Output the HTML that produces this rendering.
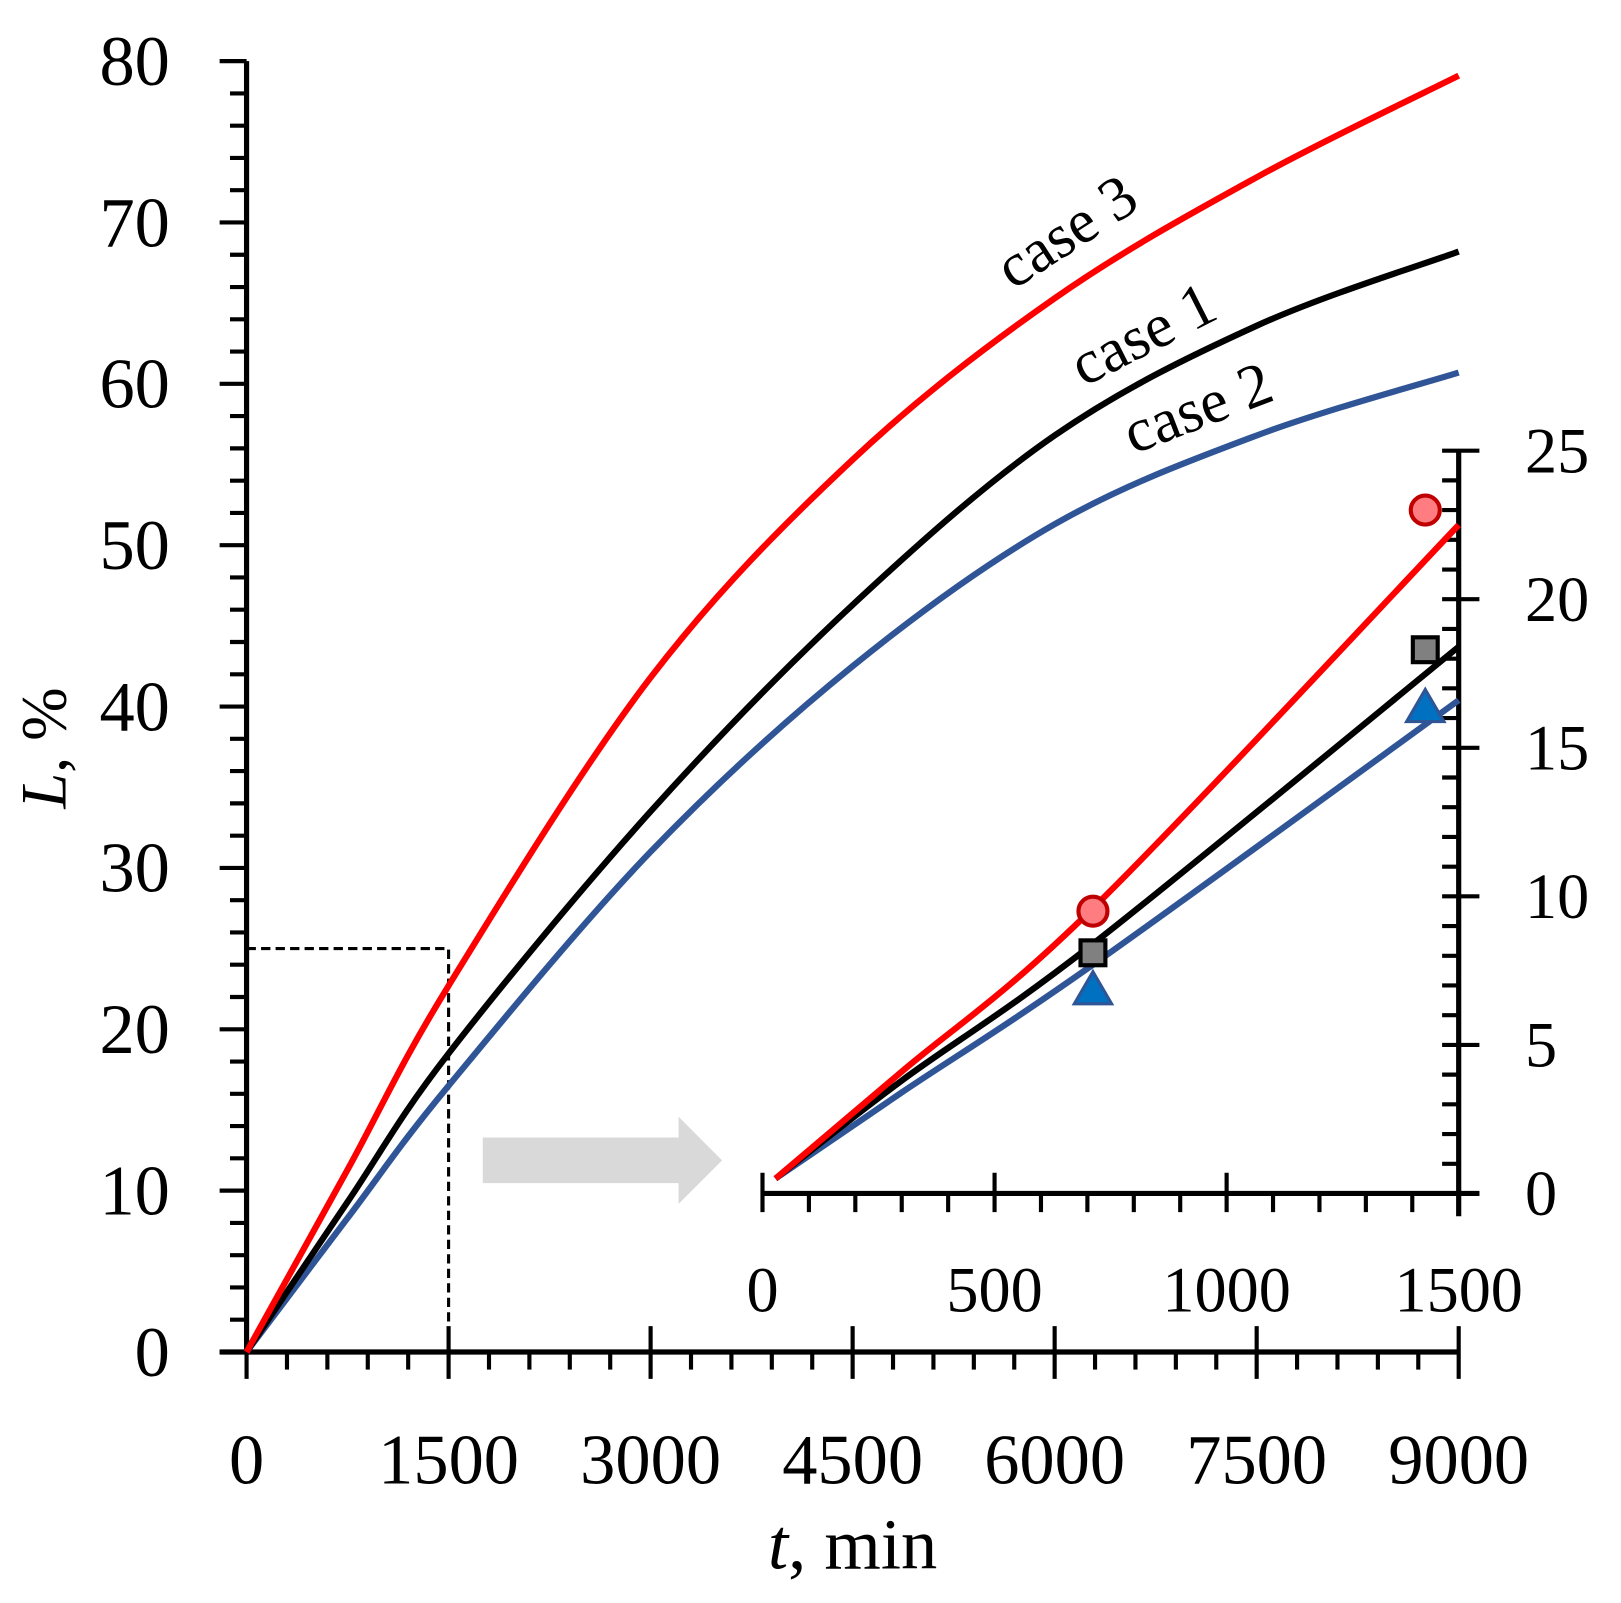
<!DOCTYPE html>
<html><head><meta charset="utf-8"><style>
html,body{margin:0;padding:0;background:#fff;}
svg{display:block;}
text{font-family:"Liberation Serif",serif;fill:#000;}
</style></head><body>
<svg id="chart" width="1621" height="1603" viewBox="0 0 1621 1603" xmlns="http://www.w3.org/2000/svg">
<g id="g" transform="scale(1.036)"></g>
</svg>
<script>
// main chart data
const mainT = [0, 750, 1500, 3000, 4500, 6000, 7500, 9000];
const case1 = [0, 9.3, 18.5, 33.5, 46.3, 56.8, 63.6, 68.2];
const case2 = [0, 8.3, 16.5, 31.0, 42.5, 51.3, 56.8, 60.7];
const case3 = [0, 11.3, 22.7, 41.8, 55.3, 65.3, 72.8, 79.1];
const mainXTicks = [0, 1500, 3000, 4500, 6000, 7500, 9000];
const mainYTicks = [0, 10, 20, 30, 40, 50, 60, 70, 80];
// inset data
const insetT = [28, 300, 712, 1500];
const inset1 = [0.5, 3.8, 8.4, 18.4];
const inset2 = [0.5, 3.4, 7.7, 16.6];
const inset3 = [0.5, 4.1, 9.6, 22.5];
const expT = [712, 1428];
const exp1 = [8.1, 18.3];
const exp2 = [6.8, 16.3];
const exp3 = [9.5, 23.0];
const insetXTicks = [0, 500, 1000, 1500];
const insetYTicks = [0, 5, 10, 15, 20, 25];

const NS = "http://www.w3.org/2000/svg";
const g = document.getElementById('g');
function el(tag, attrs, parent){const e=document.createElementNS(NS,tag);for(const k in attrs)e.setAttribute(k,attrs[k]);(parent||g).appendChild(e);return e;}

const X = t => 238 + t/9000*1170;
const Y = v => 1305 - v/80*1246;
const IX = t => 736 + t/1500*672;
const IY = v => 1152 - v/25*717;

function spline(xs, ys){
  const p = xs.map((x,i)=>[x,ys[i]]);
  let d = `M${p[0][0]},${p[0][1]}`;
  for(let i=0;i<p.length-1;i++){
    const p0=p[Math.max(0,i-1)],p1=p[i],p2=p[i+1],p3=p[Math.min(p.length-1,i+2)];
    const c1=[p1[0]+(p2[0]-p0[0])/6,p1[1]+(p2[1]-p0[1])/6];
    const c2=[p2[0]-(p3[0]-p1[0])/6,p2[1]-(p3[1]-p1[1])/6];
    d+=` C${c1[0]},${c1[1]} ${c2[0]},${c2[1]} ${p2[0]},${p2[1]}`;
  }
  return d;
}

// dashed zoom box
let e = el('path',{d:`M238,${Y(25)} H${X(1500)} V1305`,fill:'none',stroke:'#000','stroke-width':3,'stroke-dasharray':'9,5'});



// main axes
e = el('line',{x1:238,y1:Y(80),x2:238,y2:1305,stroke:'#000','stroke-width':5});


e = el('line',{x1:212,y1:1305,x2:1408,y2:1305,stroke:'#000','stroke-width':5});


for(let v=0; v<=80; v+=2){
  const major = v%10===0;
  el('line',{x1:major?212:222,y1:Y(v),x2:238,y2:Y(v),stroke:'#000','stroke-width':4});
}
mainYTicks.forEach(v=>{
  const t = el('text',{x:164,y:Y(v)+23,'font-size':68,'text-anchor':'end'});
  t.textContent = v;
  
  
});
for(let t=0; t<=9000; t+=300){
  const major = t%1500===0;
  el('line',{x1:X(t),y1:major?1280:1305,x2:X(t),y2:major?1331:1322,stroke:'#000','stroke-width':4});
}
mainXTicks.forEach(v=>{
  const t = el('text',{x:X(v),y:1432,'font-size':68,'text-anchor':'middle'});
  t.textContent = v;
  
  
});
let tt = el('text',{x:823,y:1514,'font-size':70,'text-anchor':'middle'});
tt.innerHTML = '<tspan font-style="italic">t</tspan>, min';


tt = el('text',{x:0,y:0,'font-size':62,'text-anchor':'middle',transform:'translate(63,722) rotate(-90)'});
tt.innerHTML = '<tspan font-style="italic">L</tspan>, %';



// main curves
[[case2,'#2f5597','case-2-line'],[case1,'#000','case-1-line'],[case3,'#ff0000','case-3-line']].forEach(([s,c,n])=>{
  const p = el('path',{d:spline(mainT.map(X), s.map(Y)),fill:'none',stroke:c,'stroke-width':6});
  
  
});

// curve labels
[['case 3',1040,240,-33,'case-3-label'],['case 1',1112,340,-27,'case-1-label'],['case 2',1163,412,-21,'case-2-label']].forEach(([s,x,y,r,n])=>{
  const t = el('text',{x:0,y:0,'font-size':60,'text-anchor':'middle',transform:`translate(${x},${y}) rotate(${r})`});
  t.textContent = s;
  
  
});

// arrow
e = el('path',{d:'M466,1098 H655 V1078 L697,1120 L655,1162 V1142 H466 Z',fill:'#d9d9d9'});



// inset axes
e = el('line',{x1:1408,y1:IY(25),x2:1408,y2:1174,stroke:'#000','stroke-width':5});


e = el('line',{x1:736,y1:1152,x2:1428,y2:1152,stroke:'#000','stroke-width':5});


for(let v=0; v<=25; v++){
  const major = v%5===0;
  el('line',{x1:1392,y1:IY(v),x2:major?1428:1408,y2:IY(v),stroke:'#000','stroke-width':4});
}
insetYTicks.forEach(v=>{
  const t = el('text',{x:1472,y:IY(v)+21,'font-size':62,'text-anchor':'start'});
  t.textContent = v;
  
  
});
for(let t=0; t<=1500; t+=100){
  const major = t%500===0;
  el('line',{x1:IX(t),y1:major?1132:1152,x2:IX(t),y2:1170,stroke:'#000','stroke-width':4});
}
insetXTicks.forEach(v=>{
  const t = el('text',{x:IX(v),y:1266,'font-size':62,'text-anchor':'middle'});
  t.textContent = v;
  
  
});
// inset curves
[[inset2,'#2f5597','inset-case-2-line'],[inset1,'#000','inset-case-1-line'],[inset3,'#ff0000','inset-case-3-line']].forEach(([s,c,n])=>{
  const p = el('path',{d:spline(insetT.map(IX), s.map(IY)),fill:'none',stroke:c,'stroke-width':6});
  
  
});
// markers
expT.forEach((t,i)=>{
  const x = IX(t);
  let m = el('circle',{cx:x,cy:IY(exp3[i]),r:14,fill:'#ff7c80',stroke:'#c00000','stroke-width':4});
  
  
  m = el('rect',{x:x-12,y:IY(exp1[i])-12,width:24,height:24,fill:'#808080',stroke:'#000','stroke-width':4});
  
  
  const y = IY(exp2[i]);
  m = el('path',{d:`M${x},${y-19} L${x+18},${y+12} L${x-18},${y+12} Z`,fill:'#0070c0',stroke:'#2f5597','stroke-width':3});
  
  
});
</script>
</body></html>
